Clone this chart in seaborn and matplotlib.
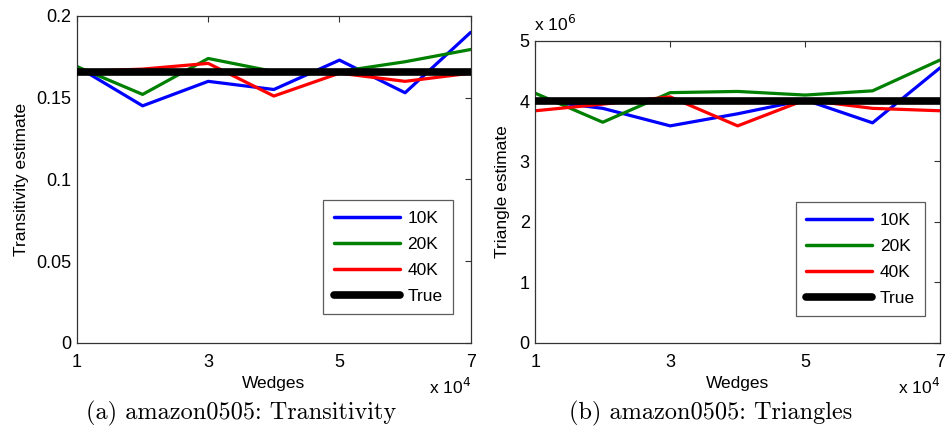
import numpy as np
import pandas as pd
import matplotlib
matplotlib.use("Agg")
import matplotlib.pyplot as plt
import seaborn as sns
from matplotlib.lines import Line2D

# ---------------- data ----------------
wedges = [1, 2, 3, 4, 5, 6, 7]            # x 10^4
series_names = ["10K", "20K", "40K"]

trans_10k = [0.169, 0.145, 0.160, 0.155, 0.173, 0.153, 0.190]
trans_20k = [0.169, 0.152, 0.174, 0.166, 0.166, 0.172, 0.1795]
trans_40k = [0.166, 0.1675, 0.171, 0.151, 0.165, 0.160, 0.165]
trans_true = 0.1655

tri_10k = [4.02, 3.88, 3.59, 3.79, 4.02, 3.64, 4.55]   # x 10^6
tri_20k = [4.13, 3.65, 4.14, 4.16, 4.10, 4.17, 4.68]
tri_40k = [3.84, 3.95, 4.07, 3.59, 4.02, 3.88, 3.84]
tri_true = 4.0

trans_yticks = [0, 0.05, 0.1, 0.15, 0.2]
trans_yticklabels = ["0", "0.05", "0.1", "0.15", "0.2"]
tri_yticks = [0, 1, 2, 3, 4, 5]
xticks = [1, 3, 5, 7]

# ---------------- style ----------------
sns.set_theme(style="white")
plt.rcParams["font.family"] = ["Liberation Sans", "DejaVu Sans"]
plt.rcParams["text.color"] = "black"
plt.rcParams["axes.labelcolor"] = "black"

W, H = 946, 432
fig = plt.figure(figsize=(W / 100, H / 100), dpi=100)

def px_axes(l, t, r, b):
    return fig.add_axes([l / W, 1 - b / H, (r - l) / W, (b - t) / H])

ax1 = px_axes(77, 16, 470.7, 342.7)
ax2 = px_axes(535.3, 40.7, 940, 342.7)

palette = {"10K": "#0000ff", "20K": "#008000", "40K": "#ff0000"}

def draw(ax, s1, s2, s3, true_val):
    df = pd.DataFrame({
        "Wedges": wedges * 3,
        "value": s1 + s2 + s3,
        "series": sum([[n] * len(wedges) for n in series_names], []),
    })
    sns.lineplot(data=df, x="Wedges", y="value", hue="series", palette=palette,
                 linewidth=2.3, ax=ax, legend=False, zorder=2)
    tdf = pd.DataFrame({"Wedges": wedges, "value": [true_val] * len(wedges)})
    sns.lineplot(data=tdf, x="Wedges", y="value", color="black", linewidth=5.5,
                 ax=ax, legend=False, zorder=3)
    ax.set_xlim(1, 7)
    ax.set_xticks(xticks)
    ax.set_xticklabels([str(v) for v in xticks])
    ax.tick_params(direction="in", length=4, width=0.8, top=True, right=True,
                   labelsize=13, colors="#333333", labelcolor="black")
    ax.tick_params(axis="x", pad=8)
    ax.tick_params(axis="y", pad=4)
    for sp in ax.spines.values():
        sp.set_color("#333333")
        sp.set_linewidth(0.9)
    ax.set_xlabel("Wedges", fontsize=12.5, labelpad=4)
    handles = [Line2D([], [], color=palette[n], lw=2.5) for n in series_names]
    handles.append(Line2D([], [], color="black", lw=5.5))
    leg = ax.legend(handles, series_names + ["True"], loc="lower right",
                    frameon=True, fancybox=False, handlelength=3.8,
                    labelspacing=0.62, borderpad=0.6, handletextpad=0.45,
                    fontsize=12.5, borderaxespad=0)
    leg.get_frame().set_edgecolor("#333333")
    leg.get_frame().set_linewidth(0.9)
    return leg

leg1 = draw(ax1, trans_10k, trans_20k, trans_40k, trans_true)
ax1.set_ylim(0, 0.2)
ax1.set_yticks(trans_yticks)
ax1.set_yticklabels(trans_yticklabels)
ax1.set_ylabel("Transitivity estimate", fontsize=12.5, labelpad=5)
leg1.set_bbox_to_anchor((1 - 17.7 / 393.7, 28.7 / 326.7), transform=ax1.transAxes)

leg2 = draw(ax2, tri_10k, tri_20k, tri_40k, tri_true)
ax2.set_ylim(0, 5)
ax2.set_yticks(tri_yticks)
ax2.set_yticklabels([str(v) for v in tri_yticks])
ax2.set_ylabel("Triangle estimate", fontsize=12.5, labelpad=7)
leg2.set_bbox_to_anchor((1 - 14.7 / 404.7, 26.7 / 302.0), transform=ax2.transAxes)

# multiplier labels
fig.text(429 / W, 1 - 387 / H, r"x 10$^{4}$", fontsize=12.5, va="center", ha="left")
fig.text(898 / W, 1 - 387 / H, r"x 10$^{4}$", fontsize=12.5, va="center", ha="left")
fig.text(534 / W, 1 - 24 / H, r"x 10$^{6}$", fontsize=12.5, va="center", ha="left")

# captions
fig.text(241 / W, 1 - 413 / H, "(a) amazon0505: Transitivity", fontsize=17.5,
         family="cmr10", ha="center", va="center")
fig.text(711 / W, 1 - 413 / H, "(b) amazon0505: Triangles", fontsize=17.5,
         family="cmr10", ha="center", va="center")

fig.savefig("out.png", dpi=100, facecolor="white")
